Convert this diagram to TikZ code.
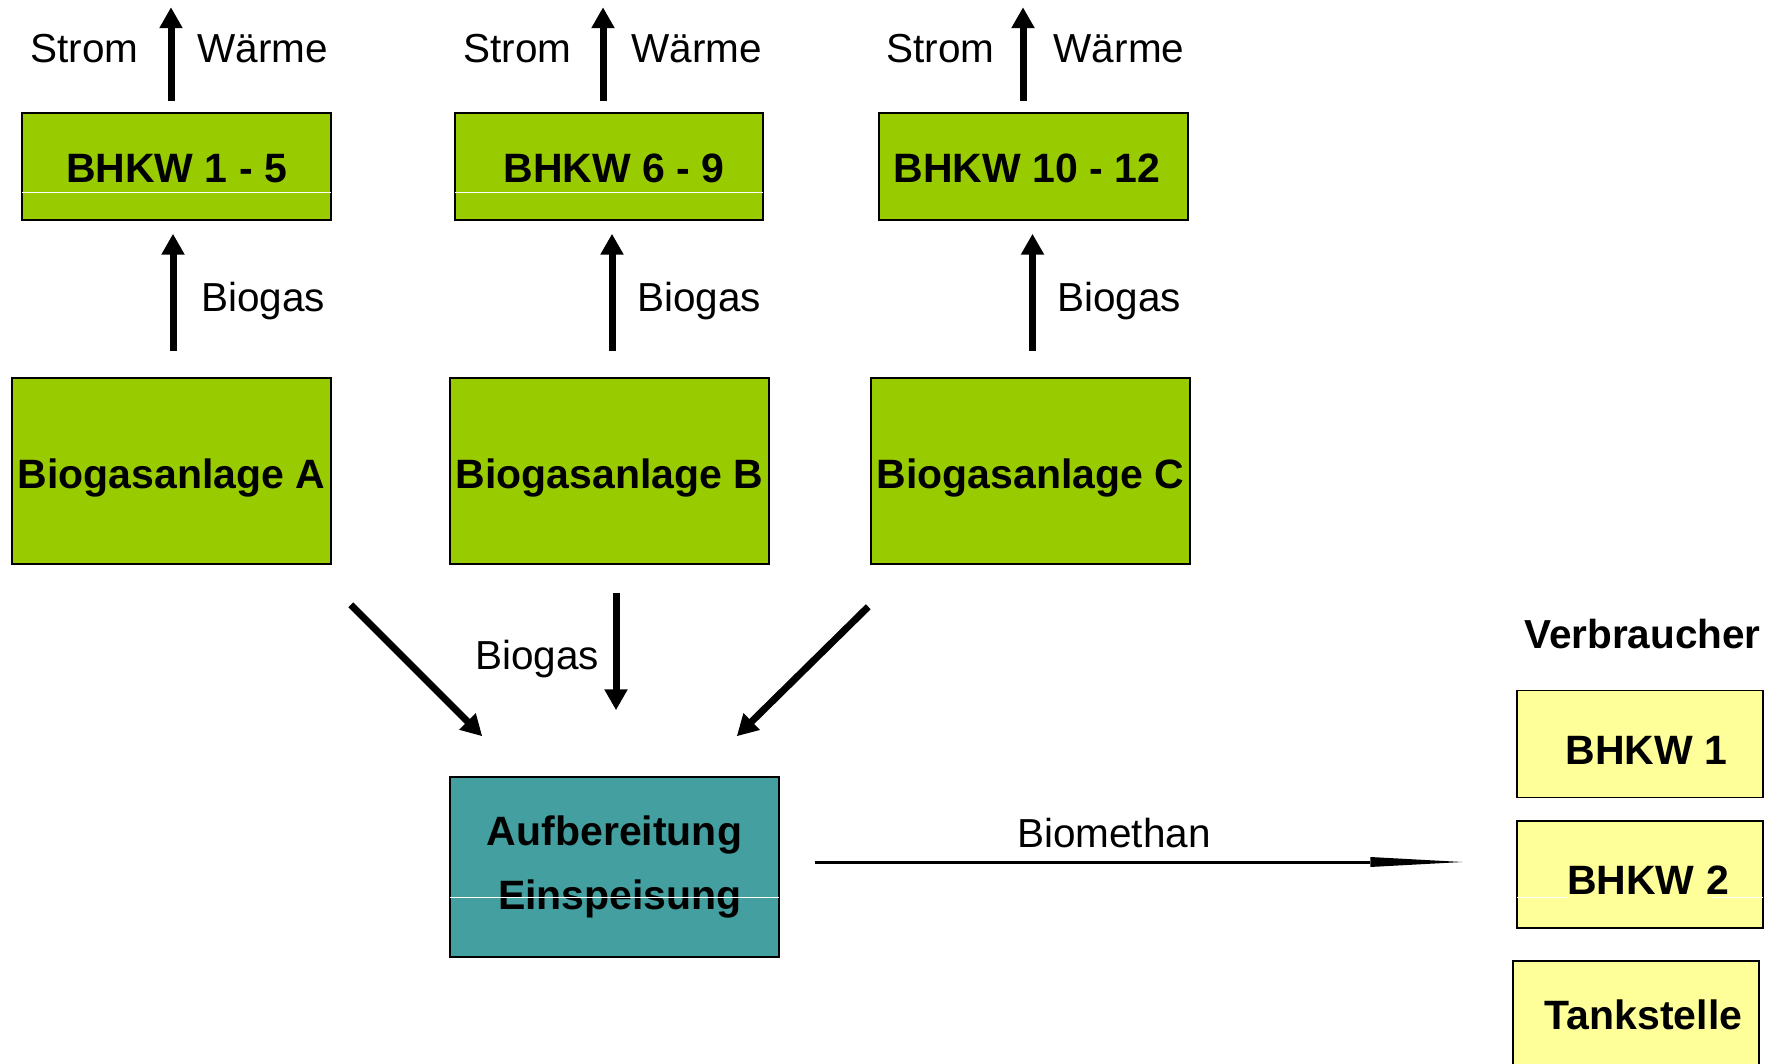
\documentclass[tikz,border=0pt]{standalone}
\usepackage{fontspec}
\setmainfont{Liberation Sans}
\usetikzlibrary{arrows.meta}
\definecolor{grn}{HTML}{99CC00}
\definecolor{ylw}{HTML}{FFFF99}
\definecolor{tealbox}{HTML}{44A0A0}
\begin{document}
\begin{tikzpicture}[x=1pt,y=-1pt,
  box/.style={draw=black, line width=1.5pt, inner sep=0pt, font=\fontsize{41}{64}\selectfont\bfseries},
  bt/.style={text height=#1, text depth=0pt},
  gbox/.style={box, fill=grn},
  ybox/.style={box, fill=ylw, minimum width=246pt, minimum height=107pt},
  lbl/.style={inner sep=0pt, anchor=base, font=\fontsize{40.5}{48}\selectfont},
  big/.style={line width=7pt, -{Triangle[width=22pt,length=21pt]}},
  slim/.style={line width=3pt, -{Triangle[width=10pt,length=92pt,line width=0pt]}},
  artline/.style={white, line width=1pt},
]
\useasboundingbox (0,0) rectangle (1767,1064);

% BHKW boxes (top row)
\node[gbox, bt=33pt, minimum width=309pt, minimum height=107pt] (k1) at (176.5,166.5) {BHKW 1 - 5};
\node[gbox, bt=33pt, minimum width=308pt, minimum height=107pt] (k2) at (609,166.5) {\hspace*{10pt}BHKW 6 - 9};
\node[gbox, bt=33pt, minimum width=309pt, minimum height=107pt] (k3) at (1033.5,166.5) {BHKW 10 - 12\hspace*{13pt}};

% Biogasanlagen
\node[gbox, bt=34pt, minimum width=319pt, minimum height=186pt] (anA) at (171.5,471) {Biogasanlage A};
\node[gbox, bt=34pt, minimum width=319pt, minimum height=186pt] (anB) at (609.5,471) {Biogasanlage B};
\node[gbox, bt=34pt, minimum width=319pt, minimum height=186pt] (anC) at (1030.5,471) {Biogasanlage C};

% Aufbereitung
\node[box, fill=tealbox, align=center, minimum width=329pt, minimum height=180pt] (auf) at (614.5,867) {Aufbereitung\\\hspace*{11pt}Einspeisung};

% Verbraucher
\node[inner sep=0pt, anchor=base, font=\fontsize{40.5}{48}\selectfont\bfseries] (verb) at (1642.5,648) {Verbraucher};
\node[ybox, bt=40pt] (v1) at (1640,744) {\hspace*{13pt}BHKW 1};
\node[ybox, bt=40pt] (v2) at (1640,874.5) {\hspace*{16pt}BHKW 2};
\node[ybox, bt=30pt] (v3) at (1636,1014.5) {\hspace*{15pt}Tankstelle};

% artefact white lines
\draw[artline] ([xshift=1pt,yshift=-26.5pt]k1.west) -- ([xshift=-1pt,yshift=-26.5pt]k1.east);
\draw[artline] ([xshift=1pt,yshift=-26.5pt]k2.west) -- ([xshift=-1pt,yshift=-26.5pt]k2.east);
\draw[artline] ([xshift=1pt,yshift=-30pt]auf.west) -- ([xshift=-1pt,yshift=-30pt]auf.east);
\draw[artline] ([xshift=1pt,yshift=-22.5pt]v2.west) -- ++(50,0);
\draw[artline] ([xshift=-1pt,yshift=-22.5pt]v2.east) -- ++(-52,0);

% Strom / Waerme arrows
\draw[big] ([xshift=-5.5pt,yshift=11pt]k1.north) -- ++(0,-94);
\draw[big] ([xshift=-6pt,yshift=11pt]k2.north) -- ++(0,-94);
\draw[big] ([xshift=-10.5pt,yshift=11pt]k3.north) -- ++(0,-94);
\node[lbl] (s1) at (84.5,63) {Strom};
\node[lbl] (w1) at (262.5,63) {Wärme};
\node[lbl] (s2) at (517.5,63) {Strom};
\node[lbl] (w2) at (696.5,63) {Wärme};
\node[lbl] (s3) at (940.5,63) {Strom};
\node[lbl] (w3) at (1119,63) {Wärme};

% Biogas up arrows
\draw[big] ([xshift=1.5pt,yshift=26pt]anA.north) -- ([xshift=-3.5pt,yshift=-13pt]k1.south);
\draw[big] ([xshift=2.5pt,yshift=26pt]anB.north) -- ([xshift=3pt,yshift=-13pt]k2.south);
\draw[big] ([xshift=2pt,yshift=26pt]anC.north) -- ([xshift=-1pt,yshift=-13pt]k3.south);
\node[lbl] (g1) at (263,312) {Biogas};
\node[lbl] (g2) at (699,312) {Biogas};
\node[lbl] (g3) at (1119,312) {Biogas};

% arrows into Aufbereitung
\draw[big] ([xshift=19pt,yshift=-40pt]anA.south east) -- ([xshift=33pt,yshift=40pt]auf.north west);
\draw[big] ([xshift=6.5pt,yshift=-28pt]anB.south) -- ([xshift=1.5pt,yshift=66pt]auf.north);
\draw[big] ([xshift=-2pt,yshift=-42pt]anC.south west) -- ([xshift=-43pt,yshift=40pt]auf.north east);
\node[lbl] (g4) at (537,669) {Biogas};

% Biomethan
\draw[slim] ([xshift=35pt,yshift=5pt]auf.east) -- ([xshift=-54pt,yshift=12.5pt]v2.west);
\node[lbl] (bm) at (1114,847) {Biomethan};
\end{tikzpicture}
\end{document}
